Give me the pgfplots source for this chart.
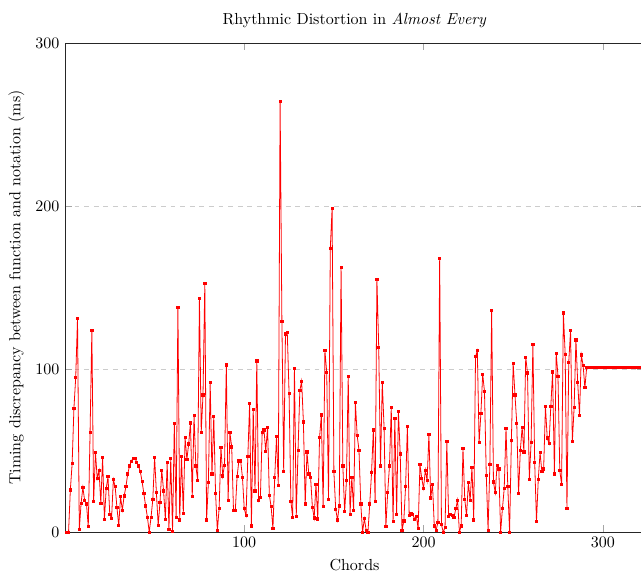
\documentclass[border=0pt]{standalone}
\usepackage{pgfplots}
\pgfplotsset{compat=1.18}
\begin{document}
\begin{tikzpicture}
\begin{axis}[
  name=ax,
  scale only axis,
  width=361.9pt, height=305.6pt,
  xmin=0, xmax=323, ymin=0, ymax=300,
  xtick={100,200,300}, ytick={0,100,200,300},
  ymajorgrids, grid style={dashed, gray!40},
  major tick style={gray!70},
  axis line style={black!85},
  title={Rhythmic Distortion in \emph{Almost Every}},
  xlabel={Chords},
  ylabel={Timing discrepancy between function and notation (ms)},
]
\addplot[red, line width=0.5pt, mark=square*, mark size=0.7pt] coordinates {
(1,0)(2,0)(3,25.8)(4,42)(5,75.9)(6,94.9)(7,131)(8,1.6)(9,17.6)(10,27.4)
(11,19.2)(12,17.2)(13,3.3)(14,61)(15,123.5)(16,18.6)(17,48.9)(18,32.9)(19,37.6)(20,17.6)
(21,45.8)(22,7.8)(23,26.6)(24,33.9)(25,10.8)(26,8.4)(27,32.3)(28,27.8)(29,14.9)(30,4.1)
(31,21.7)(32,13.5)(33,22.1)(34,27.8)(35,35.6)(36,40.5)(37,43.4)(38,45.4)(39,45.4)(40,42.9)
(41,40.5)(42,37.2)(43,31.1)(44,23.7)(45,16)(46,9)(47,0)(48,9)(49,20)(50,45.8)
(51,24.1)(52,4.1)(53,18)(54,38)(55,25.3)(56,7.8)(57,42.7)(58,1.6)(59,45.2)(60,0.6)
(61,66.7)(62,9)(63,137.8)(64,7.4)(65,46.6)(66,11.5)(67,57.9)(68,44.6)(69,54)(70,67)
(71,21.7)(72,71.4)(73,40.5)(74,31.9)(75,143.4)(76,61.3)(77,84.2)(78,152.5)(79,7.4)(80,30.5)
(81,91.6)(82,35.6)(83,70.8)(84,23.7)(85,0.8)(86,14.7)(87,52)(88,34.4)(89,41.1)(90,102.6)
(91,19.2)(92,61)(93,52.3)(94,13.5)(95,13.1)(96,33.9)(97,43.7)(98,43.7)(99,33.5)(100,14.3)
(101,10.2)(102,46.2)(103,78.9)(104,3.7)(105,75.3)(106,25.3)(107,105)(108,19.2)(109,21.3)(110,60.9)
(111,62.6)(112,49.7)(113,64)(114,22.7)(115,15.5)(116,2.2)(117,33.5)(118,58.5)(119,28.8)(120,264.4)
(121,129.4)(122,37.4)(123,121.5)(124,122.3)(125,85.1)(126,19)(127,9)(128,100.4)(129,9.4)(130,49.9)
(131,86.7)(132,92.6)(133,67.5)(134,17.2)(135,49.1)(136,35.6)(137,33.5)(138,15.3)(139,8.6)(140,29.4)
(141,8)(142,57.9)(143,71.8)(144,15.7)(145,111.2)(146,98)(147,20.2)(148,174)(149,198.6)(150,37)
(151,14.1)(152,7.4)(153,16)(154,162.4)(155,40.5)(156,12.5)(157,31.5)(158,95.7)(159,11)(160,33.5)
(161,13.1)(162,79.3)(163,59.1)(164,50.3)(165,17.2)(166,0)(167,8.2)(168,1.2)(169,0)(170,17.2)
(171,36.4)(172,62.6)(173,18.6)(174,155.2)(175,113.5)(176,40.5)(177,92)(178,63.6)(179,3.3)(180,24.1)
(181,40.5)(182,76.3)(183,6.3)(184,69.7)(185,11)(186,73.8)(187,47.9)(188,0.8)(189,6.9)(190,28.2)
(191,65)(192,10.4)(193,11.5)(194,11)(195,7.8)(196,9.8)(197,2)(198,41.5)(199,32.9)(200,26.8)
(201,38)(202,31.5)(203,59.9)(204,21)(205,29.4)(206,3.7)(207,1)(208,5.9)(209,168.1)(210,4.5)
(211,0)(212,2.9)(213,55.4)(214,9.4)(215,11)(216,10)(217,9)(218,14.3)(219,19.6)(220,0)
(221,3.7)(222,51.1)(223,20)(224,10)(225,30.3)(226,19.2)(227,39.7)(228,7.4)(229,107.6)(230,111.2)
(231,54.8)(232,72.8)(233,96.9)(234,86.3)(235,34.8)(236,1.2)(237,41.3)(238,136.2)(239,30.7)(240,24.1)
(241,40.9)(242,38.8)(243,0)(244,14.3)(245,26.6)(246,63.4)(247,27.8)(248,0)(249,56)(250,103.5)
(251,84.2)(252,66.7)(253,23.7)(254,50.3)(255,64.2)(256,49.1)(257,107.2)(258,97.7)(259,32.3)(260,55.2)
(261,115.3)(262,42.9)(263,6.5)(264,32.3)(265,48.7)(266,37)(267,38.8)(268,76.9)(269,57.7)(270,54.4)
(271,77.3)(272,98.3)(273,35.6)(274,109.6)(275,95.7)(276,37.6)(277,29.4)(278,134.5)(279,109.2)(280,14.5)
(281,104.3)(282,123.5)(283,55.4)(284,76.5)(285,117.8)(286,91.6)(287,71.6)(288,108.6)(289,102.4)(290,88.5)
(291,101)(292,101)(293,101)(294,101)(295,101)(296,101)(297,101)(298,101)(299,101)(300,101)
(301,101)(302,101)(303,101)(304,101)(305,101)(306,101)(307,101)(308,101)(309,101)(310,101)
(311,101)(312,101)(313,101)(314,101)(315,101)(316,101)(317,101)(318,101)(319,101)(320,101)
(321,101)(322,101)(323,101)(324,101)(325,101)
};
\end{axis}
\pgfresetboundingbox
\path[use as bounding box] ([shift={(-40.6pt,-25pt)}]ax.south west) rectangle ([shift={(360pt,332.5pt)}]ax.south west);
\end{tikzpicture}
\end{document}
